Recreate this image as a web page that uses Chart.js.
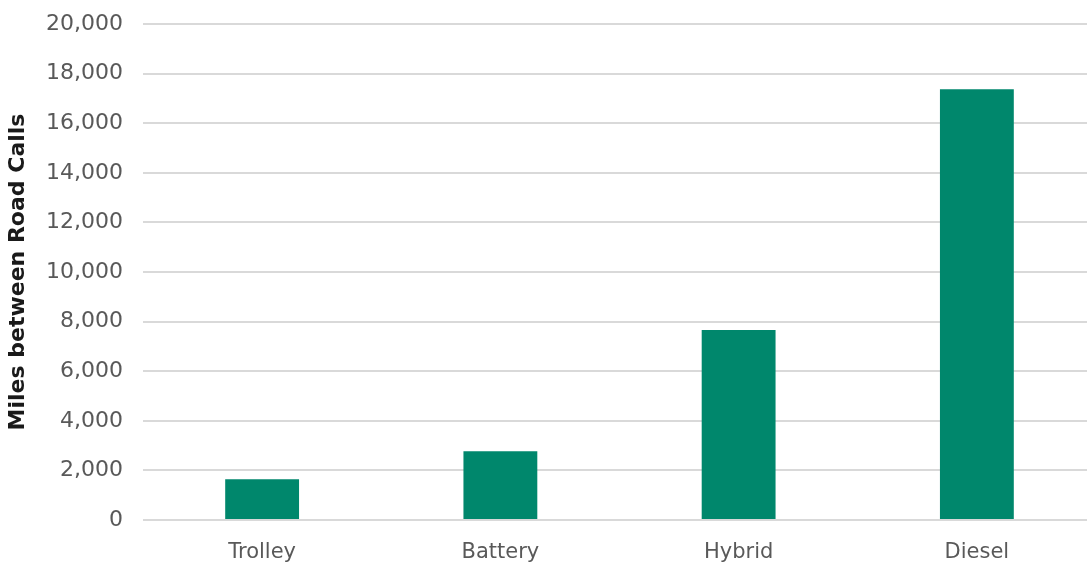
<!DOCTYPE html>
<html>
<head>
<meta charset="utf-8">
<script src="https://cdn.jsdelivr.net/npm/chart.js@4"></script>
<style>
  html, body { margin: 0; padding: 0; background: #fff; overflow: hidden; }
  #wrap { width: 1096px; height: 566px; }
</style>
</head>
<body>
<div id="wrap"><canvas id="roadCallsChart"></canvas></div>
<script>
// Bus types and miles between road calls
const busTypes = ['Trolley', 'Battery', 'Hybrid', 'Diesel'];
const milesBetweenCalls = [1640, 2770, 7660, 17370];
const yAxisTitle = 'Miles between Road Calls';

const fontFamily = "'DejaVu Sans', sans-serif";

new Chart(document.getElementById('roadCallsChart'), {
    type: 'bar',
    data: {
        labels: busTypes,
        datasets: [{
            label: yAxisTitle,
            data: milesBetweenCalls,
            backgroundColor: '#00876c',
            barPercentage: 0.31,
            categoryPercentage: 1
        }]
    },
    options: {
        responsive: true,
        maintainAspectRatio: false,
        animation: false,
        layout: { padding: { top: 24, right: 0, left: 5, bottom: 0 } },
        plugins: {
            legend: { display: false },
            tooltip: { enabled: false }
        },
        scales: {
            x: {
                grid: { display: false, drawTicks: false },
                border: { display: false },
                ticks: {
                    color: '#595959',
                    padding: 20,
                    font: { family: fontFamily, size: 21 }
                },
                afterFit: scale => { scale.height = 46; }
            },
            y: {
                min: 0,
                max: 20000,
                ticks: {
                    stepSize: 2000,
                    color: '#595959',
                    padding: 20,
                    font: { family: fontFamily, size: 22 },
                    callback: v => v.toLocaleString('en-US')
                },
                grid: { color: '#d9d9d9', lineWidth: 2, drawTicks: false },
                border: { display: false },
                title: {
                    display: true,
                    text: yAxisTitle,
                    color: '#1a1a1a',
                    padding: { top: 0, bottom: 8 },
                    font: { family: fontFamily, size: 22, weight: 'bold' }
                },
                afterFit: scale => {
                    scale.width = 138;
                    scale.paddingTop = 0;
                    scale.paddingBottom = 0;
                }
            }
        }
    }
});
</script>
</body>
</html>
